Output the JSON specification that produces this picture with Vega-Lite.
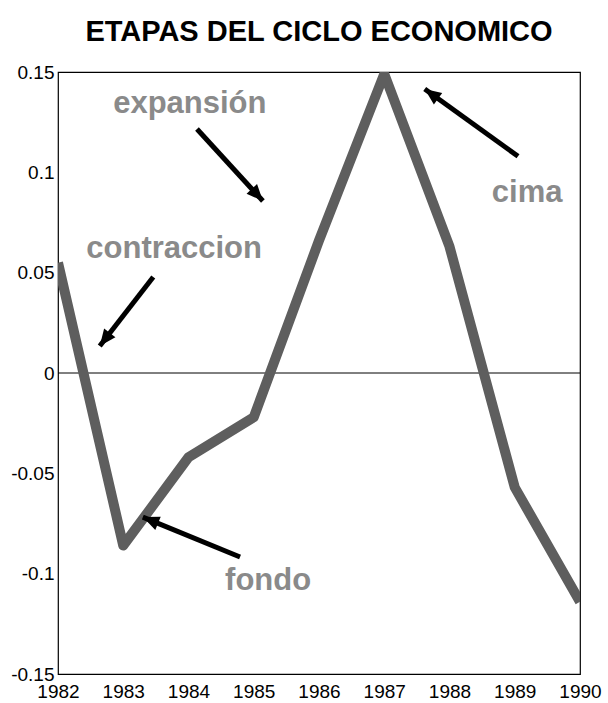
{
  "$schema": "https://vega.github.io/schema/vega-lite/v6.json",
  "width": 522,
  "height": 602,
  "autosize": {"type": "none"},
  "padding": {"left": 58, "top": 72, "right": 28, "bottom": 29},
  "background": "white",
  "title": {
    "text": "ETAPAS DEL CICLO ECONOMICO",
    "font": "Liberation Sans",
    "fontSize": 29,
    "fontWeight": "bold",
    "color": "black",
    "anchor": "middle",
    "offset": 16
  },
  "config": {
    "view": {"stroke": "black", "strokeWidth": 1.2},
    "axis": {
      "labelFont": "Liberation Sans",
      "labelFontSize": 19,
      "labelColor": "black",
      "ticks": false,
      "grid": false,
      "domain": false,
      "title": null
    }
  },
  "datasets": {
    "series": [
      {"year": 1982, "value": 0.055},
      {"year": 1983, "value": -0.086},
      {"year": 1984, "value": -0.042},
      {"year": 1985, "value": -0.022},
      {"year": 1986, "value": 0.066},
      {"year": 1987, "value": 0.149},
      {"year": 1988, "value": 0.063},
      {"year": 1989, "value": -0.057},
      {"year": 1990, "value": -0.114}
    ],
    "labels": [
      {"label": "expansión", "x": 1984.02, "y": 0.134},
      {"label": "contraccion", "x": 1983.78, "y": 0.0618},
      {"label": "cima", "x": 1989.19, "y": 0.0897},
      {"label": "fondo", "x": 1985.22, "y": -0.1037}
    ],
    "arrows": [
      {"name": "expansión", "x": 1984.13, "y": 0.1216, "x2": 1985.14, "y2": 0.0857, "dir": 137.5},
      {"name": "cima", "x": 1989.05, "y": 0.108, "x2": 1987.62, "y2": 0.1415, "dir": 305.8},
      {"name": "contraccion", "x": 1983.46, "y": 0.0478, "x2": 1982.64, "y2": 0.0135, "dir": 217.5},
      {"name": "fondo", "x": 1984.79, "y": -0.0917, "x2": 1983.30, "y2": -0.0718, "dir": 292.4}
    ],
    "zero": [{"value": 0}]
  },
  "layer": [
    {
      "data": {"name": "zero"},
      "mark": {"type": "rule", "color": "black", "strokeWidth": 1},
      "encoding": {
        "y": {"field": "value", "type": "quantitative", "scale": {"domain": [-0.15, 0.15]}}
      }
    },
    {
      "data": {"name": "series"},
      "mark": {"type": "line", "color": "#5e5e5e", "strokeWidth": 10, "strokeJoin": "round", "strokeCap": "butt", "clip": true},
      "encoding": {
        "x": {
          "field": "year", "type": "quantitative",
          "scale": {"domain": [1982, 1990], "nice": false, "zero": false},
          "axis": {"values": [1982, 1983, 1984, 1985, 1986, 1987, 1988, 1989, 1990], "format": "d", "labelPadding": 8, "labelFlush": false}
        },
        "y": {
          "field": "value", "type": "quantitative",
          "scale": {"domain": [-0.15, 0.15], "nice": false, "zero": false},
          "axis": {"values": [-0.15, -0.1, -0.05, 0, 0.05, 0.1, 0.15], "labelExpr": "'' + datum.value", "labelPadding": 4, "labelFlush": false}
        }
      }
    },
    {
      "data": {"name": "arrows"},
      "mark": {"type": "rule", "color": "black", "strokeWidth": 5},
      "encoding": {
        "x": {"field": "x", "type": "quantitative"},
        "y": {"field": "y", "type": "quantitative"},
        "x2": {"field": "x2"},
        "y2": {"field": "y2"}
      }
    },
    {
      "data": {"name": "arrows"},
      "mark": {"type": "point", "shape": "M0,0L-0.65,1.5L0.65,1.5Z", "filled": true, "color": "black", "opacity": 1, "size": 480},
      "encoding": {
        "x": {"field": "x2", "type": "quantitative"},
        "y": {"field": "y2", "type": "quantitative"},
        "angle": {"field": "dir", "type": "quantitative", "scale": null}
      }
    },
    {
      "data": {"name": "labels"},
      "mark": {"type": "text", "font": "Liberation Sans", "fontWeight": "bold", "fontSize": 31, "color": "#8a8a8a", "align": "center", "baseline": "middle"},
      "encoding": {
        "x": {"field": "x", "type": "quantitative"},
        "y": {"field": "y", "type": "quantitative"},
        "text": {"field": "label"}
      }
    }
  ]
}
